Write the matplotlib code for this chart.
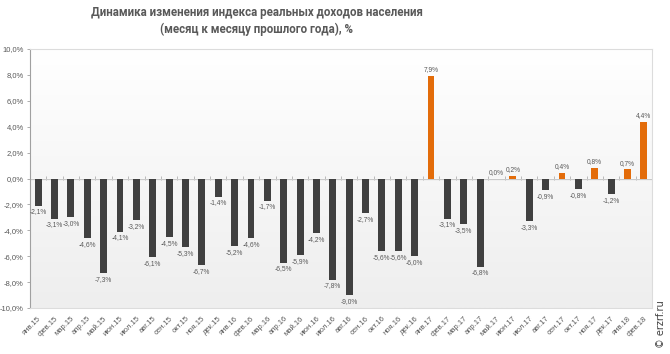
import numpy as np
import matplotlib
matplotlib.use("Agg")
import matplotlib.pyplot as plt
from matplotlib.colors import LinearSegmentedColormap
from matplotlib import font_manager

months = ["янв", "фев", "мар", "апр", "май", "июн", "июл", "авг", "сен", "окт", "ноя", "дек"]
categories = [f"{m}.{y}" for y in ["15", "16", "17"] for m in months] + ["янв.18", "фев.18"]
values = [
    -2.1, -3.1, -3.0, -4.6, -7.3, -4.1, -3.2, -6.1, -4.5, -5.3, -6.7, -1.4,
    -5.2, -4.6, -1.7, -6.5, -5.9, -4.2, -7.8, -9.0, -2.7, -5.6, -5.6, -6.0,
    7.9, -3.1, -3.5, -6.8, 0.0, 0.2, -3.3, -0.9, 0.4, -0.8, 0.8, -1.2,
    0.7, 4.4,
]
yticks = [-10, -8, -6, -4, -2, 0, 2, 4, 6, 8, 10]
title_text = "Динамика изменения индекса реальных доходов населения\n(месяц к месяцу прошлого года), %"

POS = "#E36C0A"
NEG = "#404040"
TXT = "#595959"
installed = {f.name for f in font_manager.fontManager.ttflist}
FONT = "Liberation Sans Narrow" if "Liberation Sans Narrow" in installed else "Liberation Sans"
LBL_SIZE = 5.6 if FONT == "Liberation Sans Narrow" else 4.8

fig = plt.figure(figsize=(6.70, 3.54), dpi=100)
ax = fig.add_axes([30/670, 1-308/354, (652-30)/670, (308-49)/354])

x = np.arange(len(values))
ax.set_xlim(-0.5, len(values) - 0.5)

# gradient background (white at top, light grey at bottom)
cmap = LinearSegmentedColormap.from_list("bg", ["#ffffff", "#eeeeee"])
grad = np.linspace(1, 0, 256).reshape(-1, 1)
ax.imshow(grad, cmap=cmap, aspect="auto", extent=[-0.5, len(values)-0.5, -10, 10],
          zorder=0, origin="lower")
ax.set_ylim(-10, 10)

colors = [POS if v > 0 else NEG for v in values]
ax.bar(x, values, width=0.42, color=colors, zorder=3)

ax.axhline(0, color="#c8c8c8", lw=0.9, zorder=2)
# small tick marks on zero line between categories
sec = ax.secondary_xaxis(0.5)
sec.set_xticks(np.arange(-0.5, len(values), 1))
sec.tick_params(axis="x", which="both", direction="inout", length=3, width=0.6, color="#b0b0b0",
                labelbottom=False, labeltop=False)
for sp in sec.spines.values():
    sp.set_visible(False)

for xi, v in zip(x, values):
    s = f"{v:.1f}%".replace(".", ",")
    if v < 0:
        ax.annotate(s, (xi, v), xytext=(0, -2), textcoords="offset points",
                    ha="center", va="top", fontsize=LBL_SIZE, color=TXT, family=FONT, zorder=4)
    else:
        ax.annotate(s, (xi, v), xytext=(0, 2), textcoords="offset points",
                    ha="center", va="bottom", fontsize=LBL_SIZE, color=TXT, family=FONT, zorder=4)

ax.set_yticks(yticks)
ax.set_yticklabels([f"{t:.1f}%".replace(".", ",") for t in yticks], fontsize=5.5, color=TXT,
                   family="Liberation Sans")
ax.tick_params(axis="y", length=2.5, width=0.6, color="#a0a0a0", pad=2)

ax.set_xticks(x)
ax.set_xticklabels(categories, rotation=45, ha="right", rotation_mode="anchor",
                   fontsize=5.5, color=TXT, family="Liberation Sans")
ax.tick_params(axis="x", length=0, pad=5)

for side in ["top", "right", "bottom"]:
    ax.spines[side].set_color("#dcdcdc")
    ax.spines[side].set_linewidth(0.8)
ax.spines["left"].set_color("#a0a0a0")
ax.spines["left"].set_linewidth(0.8)

fig.text(257/670, 1-21/354, title_text, ha="center", va="center", fontsize=8.3,
         fontweight="bold", color=TXT, family="Roboto", linespacing=1.35)

fig.text(661/670, 1-324/354, "© erzrf.ru", rotation=90, ha="center", va="center",
         fontsize=7, color="#404040", family="DejaVu Sans")

fig.savefig("out.png", dpi=100)
